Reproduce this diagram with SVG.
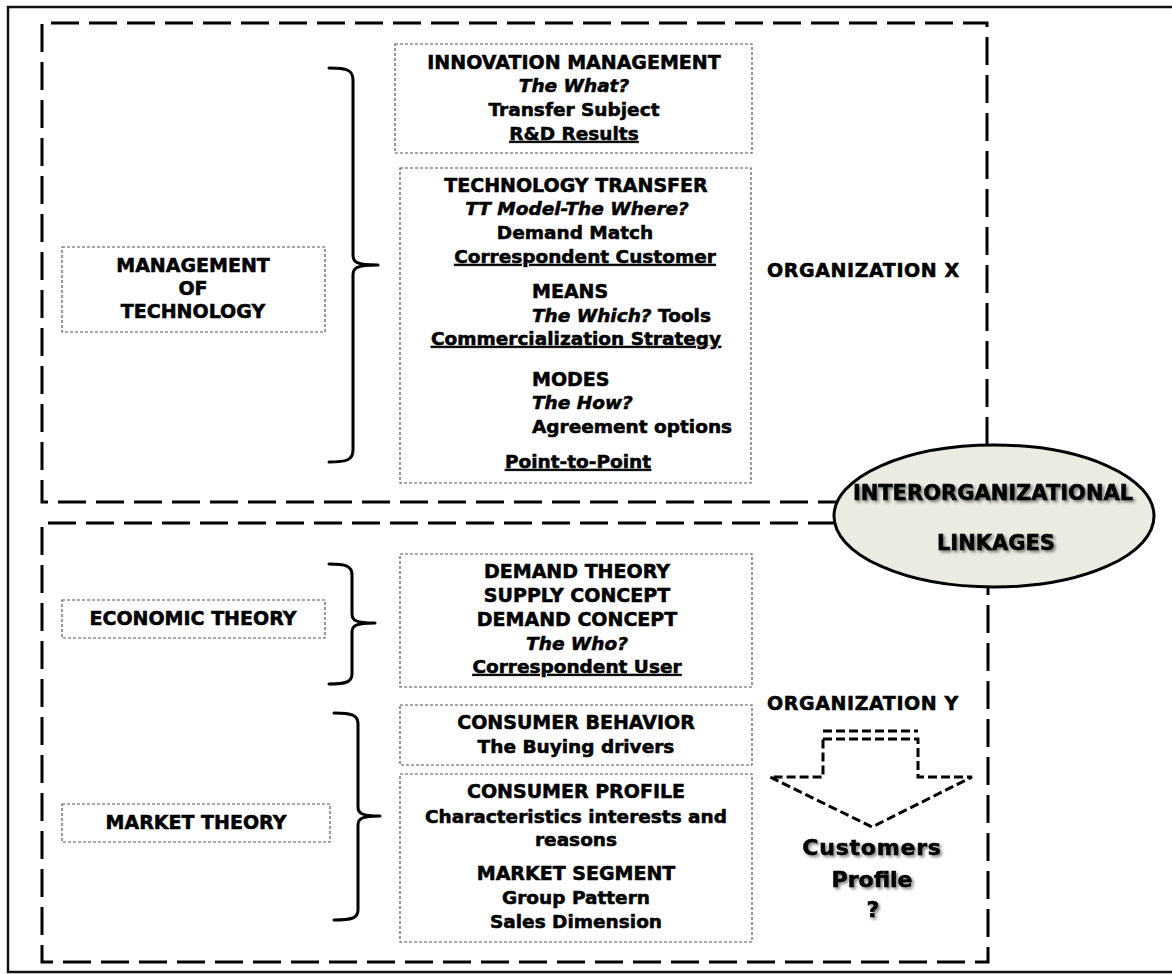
<svg xmlns="http://www.w3.org/2000/svg" width="1172" height="974" viewBox="0 0 1172 974">
<defs>
<style>
.t{font-family:"DejaVu Sans","Liberation Sans",sans-serif;font-weight:bold;font-size:19px;text-anchor:middle;fill:#000;stroke:#000;stroke-width:0.55px}
.s{font-size:18.5px}
.l{text-anchor:start}
.i{font-style:italic}
.u{text-decoration:underline}
.dot{fill:#fff;stroke:#555;stroke-width:1.2;stroke-dasharray:3 2}
.dash{fill:none;stroke:#000;stroke-width:3;stroke-dasharray:28 10}
.brace{fill:none;stroke:#000;stroke-width:3;stroke-linecap:round;stroke-linejoin:round}
.arr{fill:none;stroke:#000;stroke-width:3;stroke-dasharray:9 4}
</style>
<filter id="sh" x="-10%" y="-30%" width="120%" height="160%">
<feGaussianBlur in="SourceAlpha" stdDeviation="1.5"/>
<feOffset dx="2" dy="2" result="b"/>
<feComponentTransfer><feFuncA type="linear" slope="0.5"/></feComponentTransfer>
<feMerge><feMergeNode/><feMergeNode in="SourceGraphic"/></feMerge>
</filter>
</defs>
<rect width="1172" height="974" fill="#fff"/>
<rect x="8" y="7" width="1170" height="965" fill="none" stroke="#111" stroke-width="2.5"/>

<g id="org-x-frame">
<path class="dash" d="M987,445 L987,23 L42,23 L42,502 L836,502"/>
<text class="t" x="767" y="277" style="text-anchor:start;letter-spacing:0.6px">ORGANIZATION X</text>
</g>
<g id="org-y-frame">
<path class="dash" d="M836,523 L42,523 L42,962 L988,962 L988,587"/>
<text class="t" x="767" y="710" style="text-anchor:start;letter-spacing:0.6px">ORGANIZATION Y</text>
</g>

<g id="management-of-technology">
<rect class="dot" x="62" y="247" width="263" height="85"/>
<text class="t" x="193" y="272">MANAGEMENT</text>
<text class="t" x="193" y="295">OF</text>
<text class="t" x="193" y="318">TECHNOLOGY</text>
</g>
<g id="economic-theory">
<rect class="dot" x="62" y="600" width="263" height="38"/>
<text class="t" x="193" y="625">ECONOMIC THEORY</text>
</g>
<g id="market-theory">
<rect class="dot" x="62" y="804" width="268" height="38"/>
<text class="t" x="196" y="829">MARKET THEORY</text>
</g>

<g id="innovation-management">
<rect class="dot" x="395" y="44" width="357" height="109"/>
<text class="t" x="574" y="69">INNOVATION MANAGEMENT</text>
<text class="t s i" x="574" y="92">The What?</text>
<text class="t s" x="574" y="116">Transfer Subject</text>
<text class="t s u" x="574" y="140">R&amp;D Results</text>
</g>

<g id="technology-transfer">
<rect class="dot" x="400" y="168" width="351" height="315"/>
<text class="t" x="576" y="192">TECHNOLOGY TRANSFER</text>
<text class="t s i" x="577" y="215">TT Model-The Where?</text>
<text class="t s" x="575" y="239">Demand Match</text>
<text class="t s u" x="585" y="263">Correspondent Customer</text>
<text class="t l" x="532" y="298">MEANS</text>
<text class="t s l" x="532" y="322"><tspan class="i">The Which?</tspan> Tools</text>
<text class="t s u" x="576" y="345">Commercialization Strategy</text>
<text class="t l" x="532" y="386">MODES</text>
<text class="t s i l" x="532" y="409">The How?</text>
<text class="t s l" x="532" y="433">Agreement options</text>
<text class="t s u" x="578" y="468">Point-to-Point</text>
</g>

<g id="demand-theory">
<rect class="dot" x="400" y="554" width="352" height="133"/>
<text class="t" x="577" y="578">DEMAND THEORY</text>
<text class="t" x="577" y="602">SUPPLY CONCEPT</text>
<text class="t" x="577" y="626">DEMAND CONCEPT</text>
<text class="t s i" x="577" y="650">The Who?</text>
<text class="t s u" x="577" y="673">Correspondent User</text>
</g>

<g id="consumer-behavior">
<rect class="dot" x="400" y="705" width="352" height="60"/>
<text class="t" x="576" y="729">CONSUMER BEHAVIOR</text>
<text class="t s" x="576" y="753">The Buying drivers</text>
</g>

<g id="consumer-profile">
<rect class="dot" x="400" y="774" width="352" height="168"/>
<text class="t" x="576" y="798">CONSUMER PROFILE</text>
<text class="t s" x="576" y="823">Characteristics interests and</text>
<text class="t s" x="576" y="846">reasons</text>
<text class="t" x="576" y="880">MARKET SEGMENT</text>
<text class="t s" x="576" y="904">Group Pattern</text>
<text class="t s" x="576" y="928">Sales Dimension</text>
</g>

<g id="interorganizational-linkages">
<ellipse cx="994" cy="516" rx="160" ry="71" fill="#ecebe2" stroke="#000" stroke-width="3"/>
<text class="t" x="993" y="500" style="font-size:21px" filter="url(#sh)">INTERORGANIZATIONAL</text>
<text class="t" x="996" y="550" style="font-size:21px" filter="url(#sh)">LINKAGES</text>
</g>

<g id="customers-profile">
<path class="arr" d="M823,731 L918,731"/>
<path class="arr" d="M823,739 L918,739 L918,777 L972,777 L872,827 L770,777 L823,777 Z"/>
<text class="t" x="872" y="855" style="font-size:22px;letter-spacing:0.8px" filter="url(#sh)">Customers</text>
<text class="t" x="872" y="887" style="font-size:22px" filter="url(#sh)">Profile</text>
<text class="t" x="873" y="917" style="font-size:22px" filter="url(#sh)">?</text>
</g>

<g id="connectors">
<path class="brace" d="M329,68 C347,68 353,70 353,80 L353,255 C353,262 356,265 378,265 M378,265 C356,265 353,268 353,275 L353,450 C353,460 347,462 329,462"/>
<path class="brace" d="M329,564 C346,564 352,566 352,575 L352,614 C352,620 355,623 375,623 M375,623 C355,623 352,626 352,632 L352,674 C352,682 346,684 329,684"/>
<path class="brace" d="M334,713 C352,713 358,715 358,724 L358,807 C358,813 361,816 380,816 M380,816 C361,816 358,819 358,825 L358,910 C358,918 352,920 334,920"/>
</g>
</svg>
